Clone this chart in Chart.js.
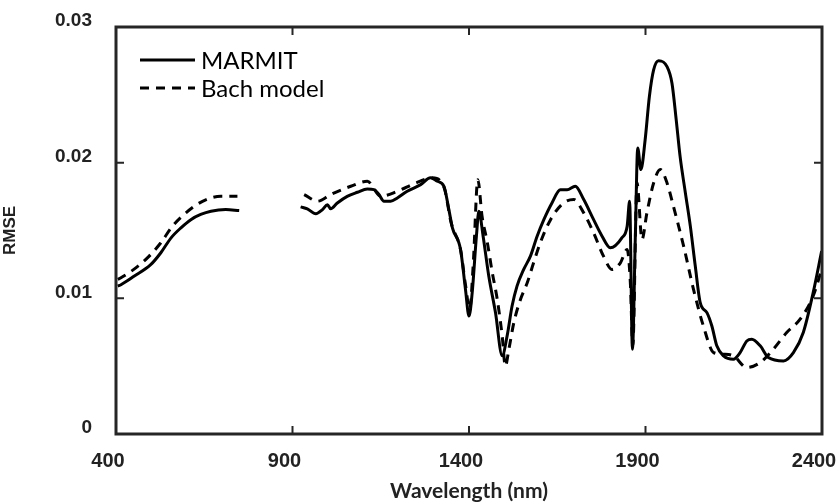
<!DOCTYPE html>
<html>
<head>
<meta charset="utf-8">
<script src="https://cdn.jsdelivr.net/npm/chart.js@4.4.1/dist/chart.umd.min.js"></script>
<style>
  html, body { margin: 0; padding: 0; background: #fff; }
  #wrap { width: 839px; height: 504px; }
</style>
</head>
<body>
<div id="wrap"><canvas id="rmseChart"></canvas></div>
<script>
// Wavelengths (nm) and RMSE; null = gap in the curve
const marmitNm = [405, 414, 452, 499, 527, 556, 584, 612, 640, 669, 711, 749, 835,
  923, 942, 966, 985, 999, 1008, 1027, 1055, 1084, 1112, 1131, 1145, 1159, 1178, 1197, 1225, 1263, 1291, 1310, 1329,
  1343, 1353, 1376, 1390, 1400, 1409, 1421, 1428, 1440, 1456, 1475, 1494, 1508, 1522, 1536, 1555, 1574, 1593, 1612,
  1635, 1659, 1678, 1701, 1725, 1753, 1777, 1800, 1833, 1848, 1855, 1863, 1871, 1878, 1887, 1899, 1911, 1923, 1937,
  1961, 1975, 1987, 1998, 2013, 2027, 2041, 2055, 2074, 2088, 2102, 2121, 2149, 2168, 2187, 2201, 2225, 2248, 2291,
  2319, 2347, 2375, 2399];
const marmitRmse = [0.0109, 0.0110, 0.01164, 0.0125, 0.01336, 0.01446, 0.0152, 0.0158, 0.01618, 0.01642, 0.01654, 0.01647, null,
  0.01674, 0.0166, 0.01623, 0.01654, 0.0169, 0.0166, 0.01703, 0.01752, 0.01782, 0.01806, 0.01801, 0.01765, 0.01716, 0.01716, 0.0174, 0.01789, 0.01838, 0.01888, 0.01863, 0.01826,
  0.01654, 0.0152, 0.0136, 0.01066, 0.0087, 0.0104, 0.01458, 0.01642, 0.01458, 0.01164, 0.00895, 0.00576, 0.00723, 0.00943, 0.0109, 0.01213, 0.01311, 0.01458, 0.0158,
  0.01703, 0.018, 0.018, 0.01826, 0.01728, 0.0158, 0.01458, 0.01373, 0.01446, 0.01532, 0.01716, 0.00625, 0.01434, 0.02108, 0.01949, 0.02169, 0.02488, 0.02684, 0.02752,
  0.02708, 0.02586, 0.02316, 0.02046, 0.01777, 0.01532, 0.01238, 0.00968, 0.00895, 0.00796, 0.0065, 0.00576, 0.00551, 0.006, 0.00686, 0.00699, 0.0065, 0.00564, 0.00539,
  0.006, 0.00748, 0.01042, 0.01348];

const bachNm = [405, 414, 457, 494, 527, 560, 598, 645, 697, 744, 835,
  933, 971, 1008, 1065, 1112, 1150, 1197, 1249, 1296, 1329, 1350, 1376, 1390, 1402, 1412, 1425, 1437, 1452, 1466, 1480,
  1494, 1503, 1513, 1527, 1546, 1565, 1583, 1602, 1631, 1668, 1697, 1725, 1753, 1781, 1805, 1829, 1848, 1857, 1864,
  1876, 1890, 1904, 1923, 1942, 1961, 1979, 2008, 2036, 2064, 2093, 2121, 2149, 2187, 2225, 2262, 2300, 2338, 2375, 2399];
const bachRmse = [0.0114, 0.01152, 0.01226, 0.01311, 0.0141, 0.01532, 0.0163, 0.01715, 0.01752, 0.01752, null,
  0.01765, 0.01716, 0.01765, 0.01826, 0.01863, 0.01752, 0.01789, 0.0185, 0.01888, 0.0182, 0.0155, 0.0136, 0.011, 0.0092, 0.0125, 0.01875, 0.01605, 0.0141, 0.01189, 0.00993,
  0.00723, 0.0050, 0.00625, 0.00821, 0.00993, 0.01115, 0.01262, 0.0141, 0.0158, 0.01703, 0.01728, 0.0163, 0.01483, 0.01311, 0.01213, 0.01262, 0.0136, 0.0112, 0.0065,
  0.0185, 0.01434, 0.0163, 0.0185, 0.01949, 0.0185, 0.01679, 0.01385, 0.01066, 0.00796, 0.006, 0.00588, 0.00576, 0.0049, 0.00527, 0.00625, 0.00748, 0.00846, 0.01017, 0.01213];

const xTicks = [400, 900, 1400, 1900, 2400];
const yTicks = [0, 0.01, 0.02, 0.03];
const seriesNames = ["MARMIT", "Bach model"];

const toPoints = (xs, ys) => xs.map((x, i) => ({ x: x, y: ys[i] }));

// frame, inward tick marks and the in-plot legend
const framePlugin = {
  id: "frame",
  afterDraw(chart) {
    const { ctx, chartArea: a, scales } = chart;
    ctx.save();
    ctx.strokeStyle = "#262626";
    ctx.lineWidth = 3;
    ctx.strokeRect(a.left, a.top, a.right - a.left, a.bottom - a.top);

    ctx.lineWidth = 2;
    ctx.beginPath();
    xTicks.slice(1, -1).forEach((v) => {
      const px = scales.x.getPixelForValue(v);
      ctx.moveTo(px, a.bottom);
      ctx.lineTo(px, a.bottom - 8);
      ctx.moveTo(px, a.top);
      ctx.lineTo(px, a.top + 8);
    });
    yTicks.slice(1, -1).forEach((v) => {
      const py = scales.y.getPixelForValue(v);
      ctx.moveTo(a.left, py);
      ctx.lineTo(a.left + 8, py);
      ctx.moveTo(a.right, py);
      ctx.lineTo(a.right - 8, py);
    });
    ctx.stroke();

    // legend
    const lx = a.left + 24;
    chart.data.datasets.forEach((ds, i) => {
      const ly = a.top + 33 + i * 28;
      ctx.strokeStyle = "#000";
      ctx.lineWidth = 3;
      ctx.setLineDash(ds.borderDash || []);
      ctx.beginPath();
      ctx.moveTo(lx, ly);
      ctx.lineTo(lx + 55, ly);
      ctx.stroke();
      ctx.setLineDash([]);
      ctx.fillStyle = "#000";
      ctx.font = "24px Lato";
      ctx.textBaseline = "middle";
      ctx.fillText(ds.label, lx + 61, ly + 1);
    });
    ctx.restore();
  },
};

new Chart(document.getElementById("rmseChart"), {
  type: "line",
  data: {
    datasets: [
      {
        label: seriesNames[0],
        data: toPoints(marmitNm, marmitRmse),
        borderColor: "#000",
        borderWidth: 3,
        pointRadius: 0,
        cubicInterpolationMode: "monotone",
        spanGaps: false,
      },
      {
        label: seriesNames[1],
        data: toPoints(bachNm, bachRmse),
        borderColor: "#000",
        borderWidth: 3,
        borderDash: [9, 7],
        pointRadius: 0,
        cubicInterpolationMode: "monotone",
        spanGaps: false,
      },
    ],
  },
  options: {
    responsive: true,
    maintainAspectRatio: false,
    animation: false,
    layout: { padding: { top: 27, right: 17, left: 0, bottom: 0 } },
    plugins: {
      legend: { display: false },
      tooltip: { enabled: false },
    },
    scales: {
      x: {
        type: "linear",
        min: 400,
        max: 2400,
        afterBuildTicks: (scale) => {
          scale.ticks = xTicks.map((v) => ({ value: v }));
        },
        afterFit: (scale) => {
          scale.height = 70;
          scale.paddingLeft = 0;
          scale.paddingRight = 0;
        },
        grid: { display: false, drawTicks: false },
        border: { display: false },
        ticks: {
          color: "#222",
          font: { family: "'Liberation Sans', Arial, sans-serif", size: 20, weight: "bold" },
          padding: 15,
          labelOffset: -8,
          maxRotation: 0,
          autoSkip: false,
          callback: (value) => String(value),
        },
        title: {
          display: true,
          text: "Wavelength (nm)",
          color: "#222",
          font: { family: "Lato", size: 21, weight: "bold" },
          padding: { top: 0, bottom: 0 },
        },
      },
      y: {
        min: 0,
        max: 0.03,
        afterBuildTicks: (scale) => {
          scale.ticks = yTicks.map((v) => ({ value: v }));
        },
        afterFit: (scale) => {
          scale.width = 116;
          scale.paddingTop = 0;
          scale.paddingBottom = 0;
        },
        grid: { display: false, drawTicks: false },
        border: { display: false },
        ticks: {
          color: "#222",
          font: { family: "'Liberation Sans', Arial, sans-serif", size: 19, weight: "bold" },
          padding: 24,
          labelOffset: -6,
          callback: (value) => (value === 0 ? "0" : value.toFixed(2)),
        },
        title: {
          display: true,
          text: "RMSE",
          color: "#222",
          font: { family: "'Liberation Sans', Arial, sans-serif", size: 17, weight: "bold" },
          padding: { top: 0, bottom: 6 },
        },
      },
    },
  },
  plugins: [framePlugin],
});
</script>
</body>
</html>
